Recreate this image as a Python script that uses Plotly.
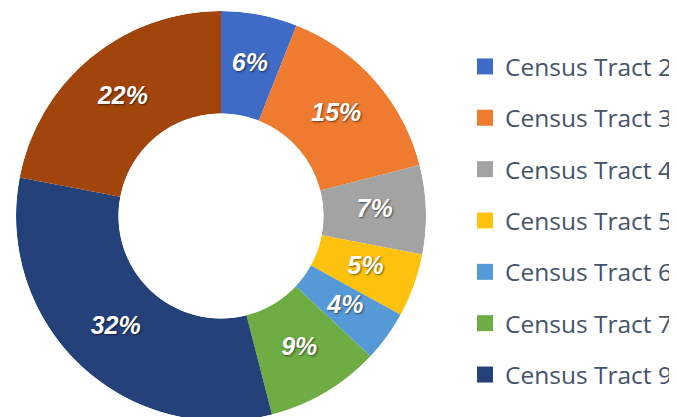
import plotly.graph_objects as go

labels = ["Census Tract 2", "Census Tract 3", "Census Tract 4", "Census Tract 5",
          "Census Tract 6", "Census Tract 7", "Census Tract 9", "Census Tract 10"]
values = [6, 15, 7, 5, 4, 9, 32, 22]
colors = ["#3E6BC6", "#EF7B30", "#A3A3A3", "#FDC20E",
          "#5599D6", "#6EAC44", "#24417A", "#A2450C"]
legend_count = 7  # the reference legend shows the first seven entries

# the page body has an 8px default margin; work in window pixels and convert
OFF = 8
W, H = 690, 420                      # figure slightly larger than the visible window
def fx(px): return (px - OFF) / W    # window x -> paper x
def fy(py): return 1 - (py - OFF) / H  # window y -> paper y

cx, cy, r = 221, 216, 205            # donut centre / radius in window pixels
hole = 0.5
dom = dict(x=[fx(cx - r), fx(cx + r)], y=[fy(cy + r), fy(cy - r)])

# angular extent of each slice (degrees, clockwise from 12 o'clock)
total = sum(values)
mids, widths, pcts, acc = [], [], [], 0
for v in values:
    widths.append(360 * v / total)
    mids.append(360 * (acc + v / 2) / total)
    pcts.append(f"{round(100 * v / total)}%")
    acc += v

fig = go.Figure()
fig.add_trace(go.Barpolar(
    r=[1] * len(values), theta=mids, width=widths, base=0,
    marker=dict(color=colors, line=dict(width=0)),
    customdata=labels, hovertemplate="%{customdata}<extra></extra>",
    showlegend=False,
))
fig.add_trace(go.Scatterpolar(
    r=[0.5] * len(values), theta=mids, text=pcts, mode="text",
    textfont=dict(family="Liberation Sans", size=25, color="white",
                  weight="bold", style="italic",
                  shadow="1px 1px 2px rgba(0,0,0,0.55)"),
    showlegend=False, hoverinfo="skip",
))

for i in range(legend_count):
    fig.add_trace(go.Scatter(
        x=[None], y=[None], mode="markers", name=labels[i],
        legendgroup=labels[i],
        marker=dict(symbol="square", size=17, color=colors[i]),
    ))

fig.update_layout(
    width=W, height=H,
    margin=dict(l=0, r=0, t=0, b=0),
    paper_bgcolor="white", plot_bgcolor="white",
    xaxis=dict(visible=False), yaxis=dict(visible=False),
    polar=dict(
        domain=dom, bgcolor="rgba(0,0,0,0)", hole=hole,
        radialaxis=dict(visible=False, range=[0, 1]),
        angularaxis=dict(visible=False, direction="clockwise", rotation=90),
    ),
    legend=dict(
        x=fx(465), xanchor="left", y=fy(44), yanchor="top",
        font=dict(family="Open Sans", size=24.5, color="#44546A"),
        traceorder="grouped", tracegroupgap=16.5,
        bgcolor="rgba(0,0,0,0)",
    ),
)

fig.write_html("out.html")
